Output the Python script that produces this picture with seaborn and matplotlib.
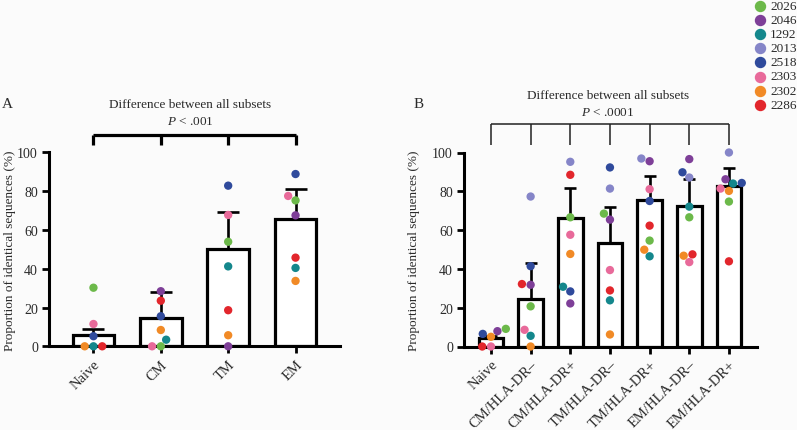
import numpy as np
import pandas as pd
import matplotlib
matplotlib.use("Agg")
import matplotlib.pyplot as plt
import seaborn as sns
from matplotlib.lines import Line2D

# ---------------- data ----------------
donors = ["2026", "2046", "1292", "2013", "2518", "2303", "2302", "2286"]
donor_colors = ["#6cb94a", "#7e3f98", "#14878c", "#8585c8",
                "#2f4a9c", "#e86a9a", "#f18a26", "#e2262c"]

# Panel A
subsets_a = ["Naive", "CM", "TM", "EM"]
means_a = [5.7, 14.6, 50.4, 65.6]
err_a = [3.3, 13.6, 18.7, 15.5]
# values per subset, in donor order (nan = not shown)
a_naive = [30.2, np.nan, 0.0, np.nan, 5.2, 11.5, 0.0, 0.0]
a_cm = [0.0, 28.4, 3.4, np.nan, 15.5, 0.0, 8.4, 23.5]
a_tm = [53.9, 0.0, 41.2, np.nan, 82.8, 67.7, 5.7, 18.6]
a_em = [75.2, 67.5, 40.4, np.nan, 88.8, 77.5, 33.7, 45.7]

# Panel B
subsets_b = ["Naive", "CM/HLA-DR\u2013", "CM/HLA-DR+", "TM/HLA-DR\u2013",
             "TM/HLA-DR+", "EM/HLA-DR\u2013", "EM/HLA-DR+"]
means_b = [4.3, 24.4, 66.4, 53.4, 75.7, 72.5, 82.6]
err_b = [1.0, 18.6, 15.5, 18.6, 12.4, 13.6, 9.3]
b_naive = [9.1, 7.9, np.nan, np.nan, 6.5, 0.0, 5.0, 0.0]
b_cm_neg = [20.7, 31.8, 5.5, 77.3, 41.4, 8.6, 0.0, 32.2]
b_cm_pos = [66.6, 22.2, 30.8, 95.2, 28.4, 57.6, 47.7, 88.5]
b_tm_neg = [68.5, 65.4, 23.8, 81.4, 92.3, 39.4, 6.2, 28.9]
b_tm_pos = [54.6, 95.5, 46.5, 96.9, 75.0, 81.1, 49.9, 62.3]
b_em_neg = [66.6, 96.6, 72.1, 87.1, 89.8, 43.5, 46.8, 47.5]
b_em_pos = [74.7, 86.2, 84.0, 100.0, 84.3, 81.4, 80.2, 43.9]

title_text = "Difference between all subsets"
p_text_a = r"$\it{P}$ < .001"
p_text_b = r"$\it{P}$ < .0001"
ylabel = "Proportion of identical sequences (%)"


def long_form(subsets, rows):
    recs = []
    for s, row in zip(subsets, rows):
        for d, v in zip(donors, row):
            if not np.isnan(v):
                recs.append({"subset": s, "donor": d, "value": v})
    return pd.DataFrame(recs)


df_a = long_form(subsets_a, [a_naive, a_cm, a_tm, a_em])
df_b = long_form(subsets_b, [b_naive, b_cm_neg, b_cm_pos, b_tm_neg,
                             b_tm_pos, b_em_neg, b_em_pos])

# ---------------- style ----------------
sns.set_theme(style="white")
plt.rcParams["font.family"] = ["Liberation Serif", "DejaVu Serif"]
plt.rcParams["mathtext.fontset"] = "custom"
plt.rcParams["mathtext.rm"] = "Liberation Serif"
plt.rcParams["mathtext.it"] = "Liberation Serif:italic"
TXT = "#2a2a2a"
BG = "#fbfbfb"

W, H = 797, 431
fig = plt.figure(figsize=(W / 100, H / 100), dpi=100, facecolor=BG)


def px_axes(left, right, top, bottom):
    return fig.add_axes([left / W, 1 - bottom / H, (right - left) / W, (bottom - top) / H])


ax_a = px_axes(49, 340, 153.3, 347.3)
ax_b = px_axes(464, 756.7, 153.5, 347.5)

palette = dict(zip(donors, donor_colors))


def draw_panel(ax, subsets, means, errs, df, bar_lw, capsize, xlim):
    ax.set_facecolor(BG)
    sns.barplot(x=subsets, y=means, order=subsets, color="white", saturation=1,
                edgecolor="black", linewidth=bar_lw, width=0.62, errorbar=None,
                ax=ax, zorder=1)
    ax.errorbar(np.arange(len(subsets)), means,
                yerr=[np.zeros(len(means)), errs], fmt="none", ecolor="black",
                elinewidth=1.9, capsize=capsize, capthick=1.9, zorder=2)
    sns.swarmplot(data=df, x="subset", y="value", hue="donor", order=subsets,
                  hue_order=donors, palette=palette, size=6.0, linewidth=0,
                  legend=False, ax=ax, zorder=4, clip_on=False)
    ax.set_xlim(*xlim)
    ax.set_ylim(0, 100)
    ax.set_yticks([0, 20, 40, 60, 80, 100])
    ax.set_xlabel("")
    ax.set_ylabel("")
    for s in ["top", "right"]:
        ax.spines[s].set_visible(False)
    for s in ["left", "bottom"]:
        ax.spines[s].set_linewidth(2.2)
        ax.spines[s].set_color("black")
    ax.tick_params(axis="both", which="major", length=5, width=2,
                   color="black", labelsize=10, labelcolor=TXT, pad=3,
                   left=True, bottom=True)
    ax.set_xticks(np.arange(len(subsets)))
    ax.set_xticklabels(subsets, rotation=45, ha="right",
                       rotation_mode="anchor", fontsize=10.5, color=TXT)


draw_panel(ax_a, subsets_a, means_a, err_a, df_a, 2.3, 8, (-0.66, 3.66))
draw_panel(ax_b, subsets_b, means_b, err_b, df_b, 2.3, 4.5, (-0.68, 6.7))

# y labels
for ax, xc in [(ax_a, -0.115), (ax_b, -0.152)]:
    ax.set_ylabel(ylabel, fontsize=9.5, color=TXT)
    ax.yaxis.set_label_coords(xc, 0.5)

# brackets
ax_a.hlines(109, 0, 3, color="black", lw=2.3, clip_on=False)
ax_a.vlines(np.arange(4), 104.0, 109, color="black", lw=2.3, clip_on=False)
ax_b.hlines(114.5, 0, 6, color="#222222", lw=1.1, clip_on=False)
ax_b.vlines(np.arange(7), 104.0, 114.5, color="#222222", lw=1.1, clip_on=False)

# titles
ax_a.text(0.485, 1.249, title_text, transform=ax_a.transAxes, ha="center",
          va="center", fontsize=9.5, color=TXT)
ax_a.text(0.485, 1.163, p_text_a, transform=ax_a.transAxes, ha="center",
          va="center", fontsize=9.5, color=TXT)
ax_b.text(0.492, 1.296, title_text, transform=ax_b.transAxes, ha="center",
          va="center", fontsize=9.5, color=TXT)
ax_b.text(0.492, 1.21, p_text_b, transform=ax_b.transAxes, ha="center",
          va="center", fontsize=9.5, color=TXT)

fig.text(2 / W, 1 - 105 / H, "A", ha="left", va="center", fontsize=11, color=TXT)
fig.text(414 / W, 1 - 105 / H, "B", ha="left", va="center", fontsize=11, color=TXT)

# legend (donors)
for i, (d, c) in enumerate(zip(donors, donor_colors)):
    y = 1 - (7 + 14.1 * i) / H
    fig.add_artist(Line2D([760 / W], [y], marker="o", markersize=7.2, color=c,
                          linestyle="none", transform=fig.transFigure))
    fig.text(770 / W, y, d, ha="left", va="center", fontsize=9.5, color=TXT)

fig.savefig("out.png", dpi=100, facecolor=BG)
